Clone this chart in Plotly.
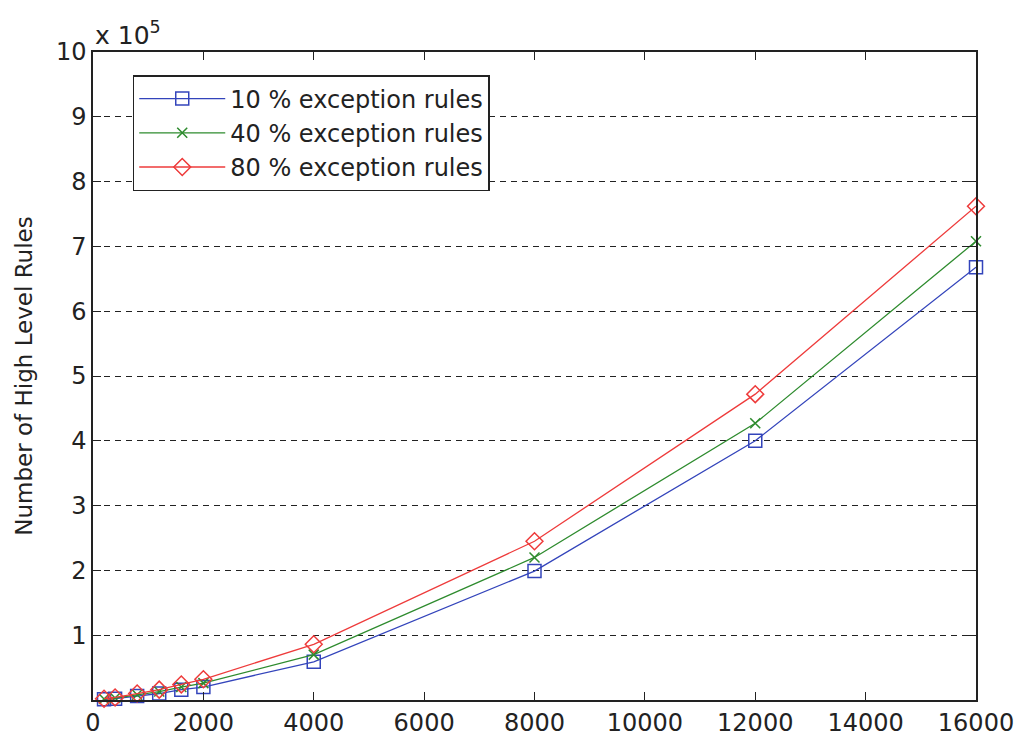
import plotly.graph_objects as go

x_vals = [200, 400, 800, 1200, 1600, 2000, 4000, 8000, 12000, 16000]
y10 = [0.01, 0.02, 0.06, 0.10, 0.16, 0.20, 0.59, 1.99, 4.00, 6.68]
y40 = [0.015, 0.03, 0.08, 0.13, 0.20, 0.26, 0.70, 2.20, 4.27, 7.08]
y80 = [0.02, 0.04, 0.10, 0.16, 0.24, 0.32, 0.86, 2.45, 4.72, 7.62]
names = ["10 % exception rules", "40 % exception rules", "80 % exception rules"]
colors = ["#3344bb", "#2e8b2e", "#ee3b3b"]
symbols = ["square-open", "x-thin-open", "diamond-open"]
x_ticks = [0, 2000, 4000, 6000, 8000, 10000, 12000, 14000, 16000]
x_tick_labels = [str(v) for v in x_ticks]
y_ticks = [1, 2, 3, 4, 5, 6, 7, 8, 9, 10]
y_tick_labels = [str(v) for v in y_ticks]

fig = go.Figure()
for ys, nm, c, s in zip([y10, y40, y80], names, colors, symbols):
    fig.add_trace(go.Scatter(
        x=x_vals, y=ys, name=nm, mode="lines+markers",
        line=dict(color=c, width=1.3),
        marker=dict(symbol=s, size=13 if s != "x-thin-open" else 10,
                    color=c, line=dict(color=c, width=1.5)),
        cliponaxis=False,
    ))

font = "DejaVu Sans, Liberation Sans, sans-serif"
fig.update_layout(
    width=1015, height=732,
    margin=dict(l=85, r=47, t=44, b=40, autoexpand=False),
    paper_bgcolor="white", plot_bgcolor="white",
    font=dict(family=font, size=24, color="#222222"),
    showlegend=True,
    legend=dict(x=0.045, y=0.9645, xanchor="left", yanchor="top",
                bordercolor="#222222", borderwidth=1.5, bgcolor="white",
                font=dict(size=24, family=font), tracegroupgap=0,
                itemwidth=86),
    xaxis=dict(range=[0, 16000], tickvals=x_ticks, ticktext=x_tick_labels,
               ticks="inside", ticklen=8, automargin=False,
               tickcolor="#222222", showgrid=False, zeroline=False,
               showline=True, linecolor="#222222", linewidth=1.5, mirror="ticks",
               tickfont=dict(size=24)),
    yaxis=dict(range=[0, 10], tickvals=y_ticks, ticktext=y_tick_labels,
               ticks="inside", ticklen=8, automargin=False,
               tickcolor="#222222", showgrid=True, gridcolor="#222222",
               griddash="6px,5px", gridwidth=1.2, zeroline=False,
               showline=True, linecolor="#222222", linewidth=1.5, mirror="ticks",
               tickfont=dict(size=24),
               title=dict(text="Number of High Level Rules", font=dict(size=23), standoff=17)),
    annotations=[dict(text="x 10<sup>5</sup>", xref="paper", yref="paper",
                      x=0.0, y=1.0, xanchor="left", yanchor="bottom",
                      showarrow=False, font=dict(size=25, family=font))],
)
fig.write_html("out.html")
